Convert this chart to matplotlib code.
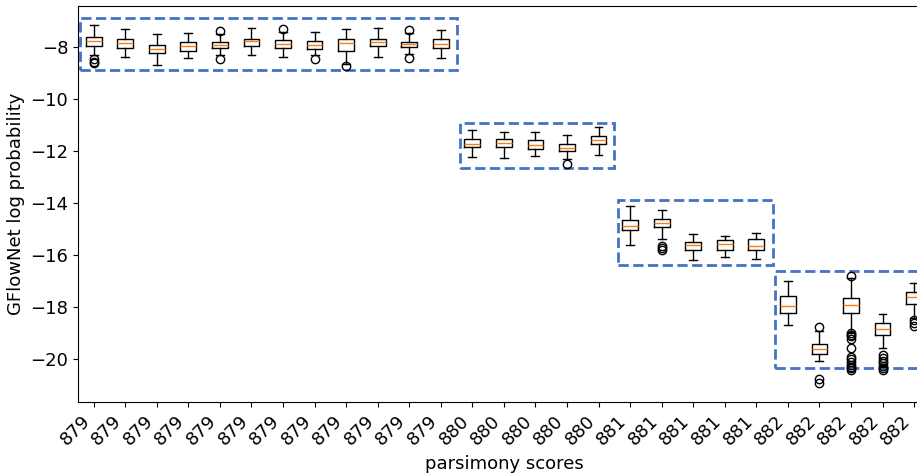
import matplotlib
matplotlib.use("Agg")
import matplotlib.pyplot as plt
from matplotlib.patches import Rectangle

# parsimony score of each sampled tree
labels = ["879"] * 12 + ["880"] * 5 + ["881"] * 5 + ["882"] * 5

# box statistics
q3 = [-7.62, -7.67, -7.90, -7.80, -7.78, -7.67, -7.73, -7.77, -7.69, -7.67, -7.78, -7.70,
      -11.51, -11.54, -11.58, -11.72, -11.41,
      -14.63, -14.59, -15.47, -15.43, -15.36,
      -17.55, -19.43, -17.64, -18.62, -17.43]
medians = [-7.76, -7.83, -8.05, -7.96, -7.90, -7.76, -7.88, -7.90, -7.85, -7.81, -7.87, -7.86,
           -11.72, -11.69, -11.74, -11.86, -11.57,
           -14.86, -14.76, -15.62, -15.58, -15.64,
           -17.95, -19.59, -17.90, -18.82, -17.62]
q1 = [-7.96, -8.01, -8.23, -8.13, -8.03, -7.95, -8.01, -8.05, -8.13, -7.97, -7.99, -8.01,
      -11.83, -11.85, -11.92, -12.00, -11.73,
      -15.04, -14.92, -15.81, -15.78, -15.78,
      -18.20, -19.78, -18.20, -19.07, -17.86]
whis_hi = [-7.13, -7.28, -7.49, -7.47, -7.49, -7.27, -7.43, -7.43, -7.28, -7.26, -7.47, -7.35,
           -11.17, -11.24, -11.24, -11.36, -11.08,
           -14.10, -14.24, -15.18, -15.26, -15.14,
           -16.97, -18.90, -16.86, -18.24, -17.07]
whis_lo = [-8.31, -8.38, -8.67, -8.41, -8.28, -8.30, -8.38, -8.31, -8.63, -8.38, -8.24, -8.41,
           -12.22, -12.26, -12.20, -12.31, -12.13,
           -15.59, -15.38, -16.17, -16.05, -16.14,
           -18.68, -20.08, -18.97, -19.57, -18.42]
outliers = [
    [-8.47, -8.57, -8.62], [], [], [], [-7.37, -8.44], [],
    [-7.31], [-8.47], [-8.72], [], [-7.33, -8.41], [],
    [], [], [], [-12.47], [],
    [], [-15.65, -15.72, -15.80], [], [], [],
    [], [-18.76, -20.75, -20.92],
    [-16.78, -19.00, -19.05, -19.10, -19.20, -19.57, -19.90, -20.00, -20.10, -20.20, -20.30, -20.35, -20.40],
    [-19.85, -19.95, -20.05, -20.15, -20.25, -20.35, -20.40],
    [-18.50, -18.60, -18.70],
]

# dashed frames around the score groups: (x0, x1, y_low, y_high)
frames = [(0.55, 12.52, -8.88, -6.88),
          (12.61, 17.49, -12.63, -10.91),
          (17.62, 22.52, -16.38, -13.88),
          (22.58, 27.70, -20.33, -16.62)]

stats = []
for i in range(len(labels)):
    stats.append(dict(med=medians[i], q1=q1[i], q3=q3[i],
                      whislo=whis_lo[i], whishi=whis_hi[i], fliers=outliers[i]))

fig = plt.figure(figsize=(9.17, 4.76), dpi=100)
ax = fig.add_axes([0.085, 0.155, 0.929, 0.832])

ax.bxp(stats, positions=range(1, len(labels) + 1), widths=0.5)

for x0, x1, y0, y1 in frames:
    ax.add_patch(Rectangle((x0, y0), x1 - x0, y1 - y0, fill=False,
                           edgecolor="#4472c4", linestyle="--", linewidth=2))

ax.set_xlim(0.5, len(labels) + 0.5)
ax.set_ylim(-21.65, -6.42)
ax.set_xticks(range(1, len(labels) + 1))
ax.set_xticklabels(labels, rotation=45, ha="right", fontsize=13)
ax.tick_params(axis="y", labelsize=13)
ax.set_xlabel("parsimony scores", fontsize=13)
ax.set_ylabel("GFlowNet log probability", fontsize=13)

fig.savefig("out.png", dpi=100)
